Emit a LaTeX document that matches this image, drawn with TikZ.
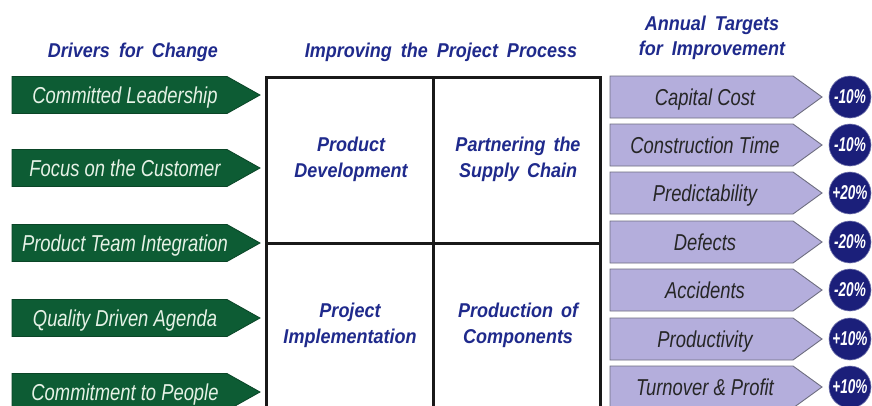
\documentclass[tikz,border=0pt]{standalone}
\usepackage{fontspec}
\setmainfont{Liberation Sans}
\newfontfamily\narrowfont{Liberation Sans}[FakeStretch=0.8]
\newfontfamily\headfont{Liberation Sans}[FakeStretch=0.9]
\newfontfamily\circfont{Liberation Sans}[FakeStretch=0.68]
\definecolor{drvgreen}{HTML}{0D5C34}
\definecolor{drvtext}{HTML}{E6F2E6}
\definecolor{tgtfill}{HTML}{B4AEDC}
\definecolor{tgtdraw}{HTML}{6E6E80}
\definecolor{navy}{HTML}{1B1F7A}
\definecolor{headblue}{HTML}{1F2A8C}
\begin{document}
\begin{tikzpicture}[x=1pt,y=-1pt,
  greenarrow/.style={fill=drvgreen, draw=drvgreen!75!black, line width=0.8pt},
  drvlabel/.style={font=\narrowfont\itshape\fontsize{23}{24}\selectfont, text=drvtext, inner sep=0pt, anchor=base},
  tgtarrow/.style={fill=tgtfill, draw=tgtdraw, line width=0.9pt},
  tgtlabel/.style={font=\narrowfont\itshape\fontsize{23}{24}\selectfont, text=black!85, inner sep=0pt, anchor=base},
  pct/.style={circle, fill=navy, draw=navy!60, line width=0.6pt, minimum size=42pt, inner sep=0pt, text=white, font=\circfont\bfseries\itshape\fontsize{20}{20}\selectfont},
  header/.style={font=\headfont\bfseries\itshape\fontsize{20}{25}\selectfont, text=headblue, inner sep=0pt, align=center, anchor=base},
  cell/.style={font=\headfont\bfseries\itshape\fontsize{20}{26}\selectfont, text=headblue, inner sep=0pt, align=center},
  gridline/.style={draw=black!90, line width=3pt}
]
\useasboundingbox[fill=white] (0,0) rectangle (872,405);

% headers
\node[header] (h1) at (133,57) {Drivers\hspace{4pt} for\hspace{4pt} Change};
\node[header] (h2) at (441,57) {Improving\hspace{4pt} the\hspace{4pt} Project\hspace{4pt} Process};
\node[header] (h3a) at (712,30) {Annual\hspace{4pt} Targets};
\node[header] (h3b) at (712,55) {for\hspace{4pt} Improvement};

% drivers
\foreach \y/\t [count=\i] in {95/{Committed Leadership},168/{Focus on the Customer},243/{Product Team Integration},318/{Quality Driven Agenda},392/{Commitment to People}}{
  \path[greenarrow] (12,\y-18.5) -- (227,\y-18.5) -- (260,\y) -- (227,\y+18.5) -- (12,\y+18.5) -- cycle;
  \node[drvlabel] (d\i) at (125,\y+8) {\t};
}

% grid
\draw[gridline] (266,77) rectangle (600,430);
\draw[gridline] (433,77) -- (433,430);
\draw[gridline] (266,243) -- (600,243);
\node[cell] (c11) at (351,159) {Product\\Development};
\node[cell] (c12) at (518,159) {Partnering\hspace{3pt} the\\Supply\hspace{3pt} Chain};
\node[cell] (c21) at (350,325) {Project\\Implementation};
\node[cell] (c22) at (518,325) {Production\hspace{3pt} of\\Components};

% targets
\foreach \y/\t/\p [count=\i] in {97/{Capital Cost}/{-10\%},145/{Construction Time}/{-10\%},193/{Predictability}/{+20\%},242/{Defects}/{-20\%},290/{Accidents}/{-20\%},339/{Productivity}/{+10\%},387/{Turnover \& Profit}/{+10\%}}{
  \path[tgtarrow] (610,\y-21) -- (793,\y-21) -- (822,\y) -- (793,\y+21) -- (610,\y+21) -- cycle;
  \node[tgtlabel] (t\i) at (705,\y+8) {\t};
  \node[pct] (p\i) at (850,\y) {\p};
}
\end{tikzpicture}
\end{document}
